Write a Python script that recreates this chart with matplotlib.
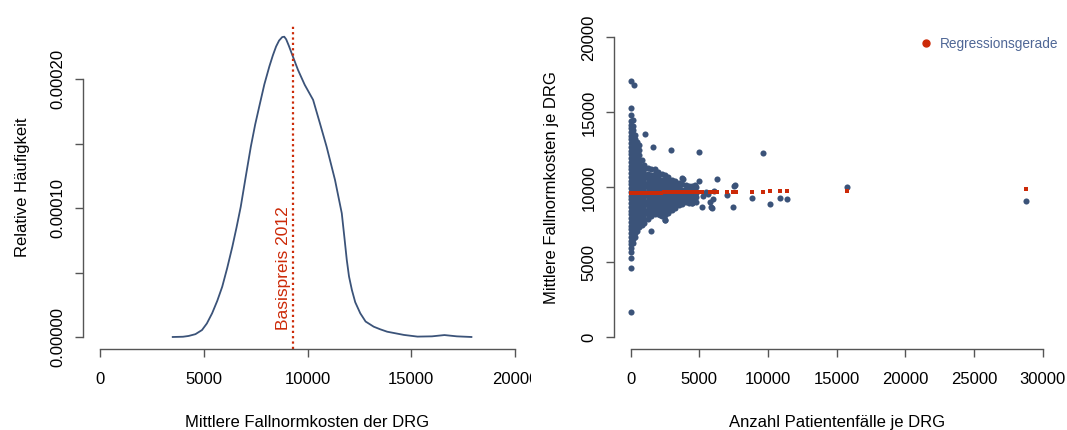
import matplotlib
matplotlib.use("Agg")
import matplotlib.pyplot as plt
from matplotlib.lines import Line2D
from matplotlib.transforms import Bbox, TransformedBbox

plt.rcParams['font.family'] = ['Liberation Sans', 'DejaVu Sans']

# --- left panel: density of mean case costs ---
dichte_x = [3505, 4000, 4270, 4600, 4916, 5150, 5403, 5650, 5890, 6130, 6377, 6580, 6782,
            7030, 7269, 7480, 7677, 7920, 8163, 8330, 8486, 8630, 8780, 8880, 8972, 9100,
            9296, 9540, 9865, 10270, 10597, 10920, 11325, 11652, 11780, 11893, 12000,
            12139, 12300, 12543, 12800, 13190, 13500, 13840, 14650, 15300, 16000, 16600,
            17200, 17900]
dichte_y = [0, 0.02e-5, 0.08e-5, 0.22e-5, 0.54e-5, 1.05e-5, 1.84e-5, 2.8e-5, 3.9e-5,
            5.35e-5, 7.0e-5, 8.5e-5, 10.1e-5, 12.5e-5, 14.77e-5, 16.5e-5, 17.9e-5,
            19.6e-5, 21.0e-5, 21.85e-5, 22.54e-5, 23.0e-5, 23.27e-5, 23.3e-5, 23.1e-5,
            22.6e-5, 21.76e-5, 20.73e-5, 19.57e-5, 18.4e-5, 16.59e-5, 14.77e-5, 12.19e-5,
            9.6e-5, 7.7e-5, 5.98e-5, 4.7e-5, 3.65e-5, 2.7e-5, 1.84e-5, 1.2e-5, 0.8e-5,
            0.6e-5, 0.41e-5, 0.16e-5, 0.03e-5, 0.05e-5, 0.15e-5, 0.05e-5, 0]
basispreis = 9310
x1_ticks = [0, 5000, 10000, 15000, 20000]
y1_ticks = [0, 0.00005, 0.0001, 0.00015, 0.0002]
y1_labels = ['0.00000', '', '0.00010', '', '0.00020']

# --- right panel: cases vs. mean costs per DRG ---
# dense cloud read column by column (cases, [costs])
wolke = [
    (0, [5700, 5950, 6200, 6450, 6700, 6950, 7200, 7450, 7700, 7950, 8200, 8450, 8700,
         8950, 9200, 9450, 9700, 9950, 10200, 10450, 10700, 10950, 11200, 11450, 11700,
         11950, 12200, 12450, 12700, 12950, 13200, 13450, 13700, 13950, 14150, 14400,
         14800, 15300]),
    (150, [6300, 6550, 6800, 7050, 7300, 7550, 7800, 8050, 8300, 8550, 8800, 9050, 9300,
           9550, 9800, 10050, 10300, 10550, 10800, 11050, 11300, 11550, 11800, 12050,
           12300, 12550, 12800, 13050, 13300, 13550, 13800, 14100, 14500]),
    (300, [6700, 6950, 7200, 7450, 7700, 7950, 8200, 8450, 8700, 8950, 9200, 9450, 9700,
           9950, 10200, 10450, 10700, 10950, 11200, 11450, 11700, 11950, 12200, 12450,
           12700, 12950, 13200, 13500]),
    (450, [7100, 7400, 7700, 8000, 8300, 8600, 8900, 9200, 9500, 9800, 10100, 10400,
           10700, 11000, 11300, 11600, 11900, 12200, 12500, 12800, 13000]),
    (600, [7350, 7650, 7950, 8250, 8550, 8850, 9150, 9450, 9750, 10050, 10350, 10650,
           10950, 11250, 11550, 11850, 12150, 12500, 12800]),
    (800, [7500, 7800, 8100, 8400, 8700, 9000, 9300, 9600, 9900, 10200, 10500, 10800,
           11100, 11400, 11800]),
    (1000, [7600, 7900, 8200, 8500, 8800, 9100, 9400, 9700, 10000, 10300, 10600, 10900,
            11200, 11500]),
    (1250, [7900, 8200, 8500, 8800, 9100, 9400, 9700, 10000, 10300, 10600, 10900, 11300]),
    (1500, [8100, 8400, 8700, 9000, 9300, 9600, 9900, 10200, 10500, 10800, 11200]),
    (1750, [8200, 8500, 8800, 9100, 9400, 9700, 10000, 10300, 10600, 10900, 11200]),
    (2000, [8250, 8550, 8850, 9150, 9450, 9750, 10050, 10350, 10700, 11000]),
    (2250, [8100, 8400, 8700, 9000, 9300, 9600, 9900, 10200, 10500, 10900]),
    (2500, [7850, 8150, 8450, 8750, 9050, 9350, 9650, 9950, 10250, 10550, 10800]),
    (2750, [8300, 8600, 8900, 9200, 9500, 9800, 10100, 10400, 10700]),
    (3000, [8500, 8800, 9100, 9400, 9700, 10000, 10250, 10500]),
    (3250, [8600, 8900, 9200, 9500, 9800, 10100, 10400]),
    (3500, [8800, 9100, 9400, 9700, 10000, 10300]),
    (3750, [8900, 9200, 9500, 9800, 10200]),
    (4000, [9000, 9300, 9600, 9900, 10150]),
    (4250, [8950, 9250, 9550, 9850, 10100]),
    (4500, [8950, 9250, 9550, 9850, 10100]),
    (4750, [9050, 9350, 9650, 10050]),
]
einzel_faelle = [20, 210, 30, 40, 30, 1040, 1600, 2935, 5000, 9660, 15730, 28750, 3785,
                 4975, 6260, 7545, 7620, 6990, 7430, 8830, 10145, 10870, 11360, 5170,
                 5775, 5850, 5945, 6020, 5300, 5500, 5650, 6100, 1455, 4440, 2860, 2130,
                 2500, 3710, 4680]
einzel_kosten = [17100, 16850, 4600, 5270, 1710, 13530, 12690, 12510, 12330, 12270, 10000,
                 9100, 10550, 10420, 10570, 10090, 10150, 9490, 8710, 9310, 8870, 9270,
                 9200, 8710, 9040, 8710, 8600, 9200, 9450, 9700, 9550, 9750, 7090, 8930,
                 8490, 8150, 7820, 10600, 10150]

# fitted values of the regression line
reg_faelle = [0, 200, 400, 600, 800, 1000, 1200, 1400, 1600, 1800, 2000, 2200, 2400,
              2600, 2800, 3000, 3200, 3400, 3600, 3800, 4000, 4200, 4400, 4600, 4800,
              5050, 5200, 5750, 5850, 5950, 6100, 6250, 7000, 7450, 7650, 8830, 9660,
              10150, 10870, 11360, 15730, 28750]
reg_kosten = [9640, 9642, 9643, 9645, 9647, 9649, 9650, 9652, 9654, 9656, 9657, 9659,
              9661, 9663, 9664, 9666, 9668, 9670, 9671, 9673, 9675, 9677, 9678, 9680,
              9682, 9684, 9685, 9690, 9691, 9692, 9693, 9694, 9701, 9705, 9707, 9717,
              9724, 9728, 9735, 9739, 9777, 9890]
x2_ticks = [0, 5000, 10000, 15000, 20000, 25000, 30000]
y2_ticks = [0, 5000, 10000, 15000, 20000]

blau = '#3B5379'
rot = '#CC2A08'
achse = '#555555'

fig = plt.figure(figsize=(10.67, 4.30), dpi=100)
W, H = 1067, 430

def r_style(ax, xb, yb):
    for s in ['top', 'right']:
        ax.spines[s].set_visible(False)
    ax.spines['bottom'].set_bounds(*xb)
    ax.spines['left'].set_bounds(*yb)
    for s in ['bottom', 'left']:
        ax.spines[s].set_color(achse)
        ax.spines[s].set_linewidth(1.0)
    ax.tick_params(axis='both', length=6.1, width=1.0, color=achse, labelsize=12,
                   labelcolor='black')
    ax.tick_params(axis='x', pad=10.5)
    ax.tick_params(axis='y', pad=6.6)
    for lab in ax.get_yticklabels():
        lab.set_rotation(90)
        lab.set_va('center')

# left panel
ax1 = fig.add_axes([83.4 / W, (H - 349.3) / H, (531.6 - 83.4) / W, (349.3 - 25.5) / H])
ax1.plot(dichte_x, dichte_y, color=blau, lw=1.3, solid_joinstyle='round')
ax1.axvline(basispreis, color=rot, lw=1.6, linestyle=(0, (1, 1.4)))
ax1.text(basispreis - 470, 0.55e-5, 'Basispreis 2012', rotation=90, color=rot,
         fontsize=12.5, ha='center', va='bottom')
ax1.set_xlim(-800, 20800)
ax1.set_ylim(-9.55e-6, 2.417e-4)
ax1.set_xticks(x1_ticks)
ax1.set_xticklabels([str(t) for t in x1_ticks])
ax1.set_yticks(y1_ticks)
ax1.set_yticklabels(y1_labels)
r_style(ax1, (0, 20000), (0, 0.0002))
ax1.set_xlabel('Mittlere Fallnormkosten der DRG', fontsize=12, labelpad=20)
ax1.set_ylabel('Relative Häufigkeit', fontsize=12, labelpad=15)
clip = TransformedBbox(Bbox([[0, 0], [531 / W, 1]]), fig.transFigure)
for lab in ax1.get_xticklabels():
    lab.set_clip_box(clip)
    lab.set_clip_on(True)

# right panel
ax2 = fig.add_axes([614.2 / W, (H - 349.3) / H, (1059.2 - 614.2) / W, (349.3 - 25.5) / H])
wolke_x = [x for x, ys in wolke for _ in ys]
wolke_y = [y for x, ys in wolke for y in ys]
ax2.plot(wolke_x + einzel_faelle, wolke_y + einzel_kosten, 'o', color=blau,
         markersize=4.4, markeredgewidth=0, linestyle='none')
ax2.plot(reg_faelle, reg_kosten, 's', color=rot, markersize=3.4, markeredgewidth=0,
         linestyle='none')
ax2.set_xlim(-1200, 31200)
ax2.set_ylim(-800, 20800)
ax2.set_xticks(x2_ticks)
ax2.set_xticklabels([str(t) for t in x2_ticks])
ax2.set_yticks(y2_ticks)
ax2.set_yticklabels([str(t) for t in y2_ticks])
r_style(ax2, (0, 30000), (0, 20000))
ax2.set_xlabel('Anzahl Patientenfälle je DRG', fontsize=12, labelpad=20)
ax2.set_ylabel('Mittlere Fallnormkosten je DRG', fontsize=12, labelpad=16)

handle = Line2D([], [], marker='o', color=rot, markersize=5, linestyle='none')
ax2.legend([handle], ['Regressionsgerade'], loc='upper left',
           bbox_to_anchor=(920.7 / W, 1 - 37 / H), bbox_transform=fig.transFigure,
           frameon=False, fontsize=9.8, labelcolor='#4F6796', handlelength=0.8,
           handletextpad=0.6, borderpad=0, borderaxespad=0)

fig.savefig('out.png', dpi=100)
